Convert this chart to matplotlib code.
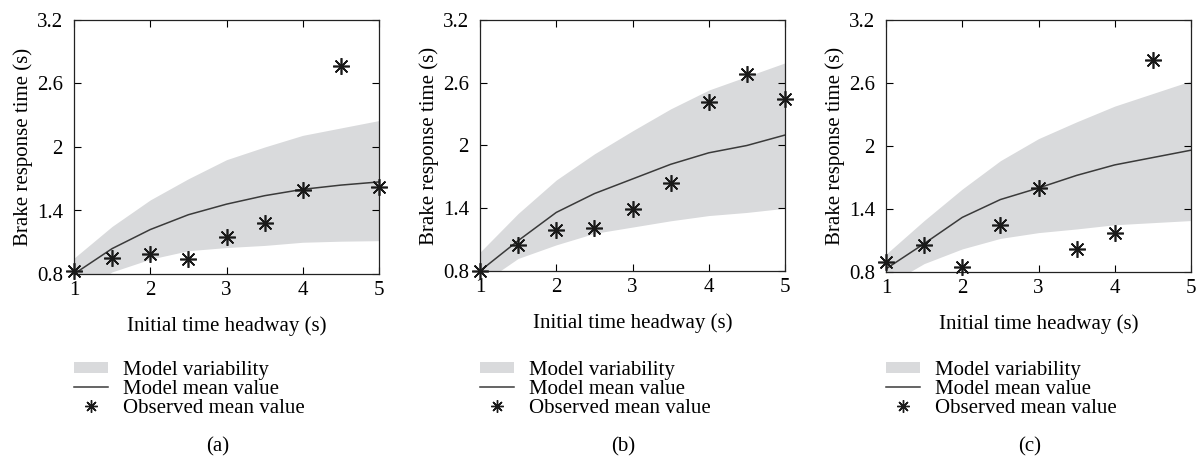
import matplotlib.pyplot as plt
from matplotlib.patches import Patch
from matplotlib.lines import Line2D

plt.rcParams['font.family'] = ['Liberation Serif', 'DejaVu Serif']

# headway values (s)
x_model = [1, 1.5, 2, 2.5, 3, 3.5, 4, 4.5, 5]

# panel (a)
a_upper = [0.95, 1.25, 1.50, 1.70, 1.88, 2.00, 2.11, 2.18, 2.25]
a_lower = [0.60, 0.82, 0.94, 1.02, 1.05, 1.07, 1.10, 1.11, 1.115]
a_mean = [0.80, 1.04, 1.22, 1.36, 1.46, 1.54, 1.60, 1.64, 1.67]
a_obs_x = [1, 1.5, 2, 2.5, 3, 3.5, 4, 4.5, 5]
a_obs = [0.83, 0.95, 0.99, 0.94, 1.15, 1.28, 1.59, 2.77, 1.62]

# panel (b)
b_upper = [0.98, 1.35, 1.67, 1.92, 2.14, 2.35, 2.53, 2.66, 2.79]
b_lower = [0.67, 0.92, 1.05, 1.16, 1.22, 1.28, 1.33, 1.36, 1.40]
b_mean = [0.80, 1.09, 1.36, 1.54, 1.68, 1.82, 1.93, 2.00, 2.10]
b_obs_x = [1, 1.5, 2, 2.5, 3, 3.5, 4, 4.5, 5]
b_obs = [0.80, 1.05, 1.19, 1.21, 1.39, 1.64, 2.42, 2.68, 2.44]

# panel (c)
c_upper = [0.97, 1.29, 1.59, 1.86, 2.07, 2.23, 2.38, 2.50, 2.62]
c_lower = [0.67, 0.88, 1.02, 1.12, 1.175, 1.21, 1.25, 1.27, 1.29]
c_mean = [0.83, 1.07, 1.32, 1.49, 1.60, 1.72, 1.82, 1.89, 1.96]
c_obs_x = [1, 1.5, 2, 2.5, 3, 3.5, 4, 4.5]
c_obs = [0.895, 1.06, 0.85, 1.25, 1.60, 1.02, 1.175, 2.82]

panels = [
    ('(a)', a_upper, a_lower, a_mean, a_obs_x, a_obs),
    ('(b)', b_upper, b_lower, b_mean, b_obs_x, b_obs),
    ('(c)', c_upper, c_lower, c_mean, c_obs_x, c_obs),
]
lefts = [74, 480, 886]
bottoms = [274, 271, 272]

band_col = '#d9dadc'
line_col = '#3a3a3a'
star = (8, 2, 0)
fs = 15

fig = plt.figure(figsize=(12.02, 4.71), dpi=100)

for (tag, up, lo, mean, ox, oy), l, b in zip(panels, lefts, bottoms):
    ax = fig.add_axes([l / 1202, 1 - b / 471, 305 / 1202, (b - 20) / 471])
    ax.fill_between(x_model, lo, up, color=band_col, lw=0)
    ax.plot(x_model, mean, color=line_col, lw=1.1)
    ax.plot(ox, oy, ls='none', marker=star, ms=12, mew=1.2, color='#1a1a1a',
            clip_on=False, zorder=5)
    ax.set_xlim(1, 5)
    ax.set_ylim(0.8, 3.2)
    ax.set_xticks([1, 2, 3, 4, 5])
    ax.set_yticks([0.8, 1.4, 2, 2.6, 3.2])
    ax.set_yticklabels(['0.8', '1.4', '2', '2.6', '3.2'])
    ax.tick_params(direction='in', top=True, right=True, labelsize=fs,
                   length=5, width=0.8, pad=5)
    ax.tick_params(axis='y', pad=8)
    for s in ax.spines.values():
        s.set_linewidth(0.9)
        s.set_color('#222222')
    ax.set_xlabel('Initial time headway (s)', fontsize=fs, labelpad=12)
    ax.set_ylabel('Brake response time (s)', fontsize=fs, labelpad=3)

    handles = [Patch(facecolor=band_col, edgecolor='none'),
               Line2D([], [], color=line_col, lw=1.1),
               Line2D([], [], ls='none', marker=star, ms=9, mew=1, color='#1a1a1a')]
    ax.legend(handles, ['Model variability', 'Model mean value', 'Observed mean value'],
              loc='upper left', bbox_to_anchor=(l / 1202, 1 - 361 / 471),
              bbox_transform=fig.transFigure, frameon=False,
              fontsize=fs, handlelength=1.63, handleheight=0.45, labelspacing=0,
              handletextpad=0.72, borderaxespad=0, borderpad=0)
    fig.text((l + 0.47 * 305) / 1202, 1 - 447 / 471, tag, ha='center', va='center',
             fontsize=fs)

fig.savefig('out.png', dpi=100)
